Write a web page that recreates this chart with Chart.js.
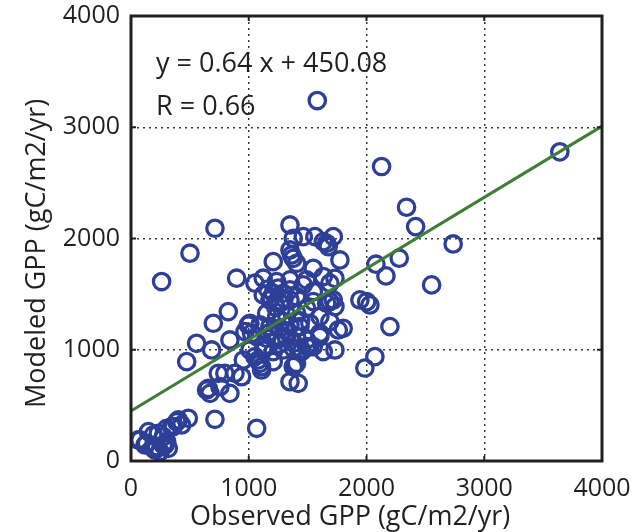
<!DOCTYPE html>
<html>
<head>
<meta charset="utf-8">
<script src="https://cdn.jsdelivr.net/npm/chart.js@4.4.1/dist/chart.umd.min.js"></script>
<style>
  html, body { margin: 0; padding: 0; background: #fff; }
  #wrap { width: 636px; height: 532px; }
</style>
</head>
<body>
<div id="wrap"><canvas id="gppChart"></canvas></div>
<script>
// Observed vs modeled GPP (gC/m2/yr)
const obsX = [
  62, 76, 119, 133, 204, 190, 246, 218, 274, 289, 317, 303, 232, 148, 190, 275, 303, 346, 360, 388, 402, 430, 487, 713, 1067,
  260, 501, 713, 473, 557, 685, 699, 826, 840, 897, 968, 1024, 996, 642, 671, 656, 755, 840, 741, 797, 883, 939, 1053,
  1053, 1081, 1109, 1095, 1109, 1350, 1420, 1378, 1392, 1449, 1491, 1520, 1604, 1604, 1732, 1760, 1802, 1689, 1732, 1661, 1548,
  1986, 2071, 2001, 2029, 1944, 2199, 2553, 2165, 2080, 2278, 2736, 2417, 2340, 2128, 3642, 1582,
  1350, 1378, 1463, 1562, 1661, 1718, 1350, 1378, 1406, 1364, 1208, 1548, 1774, 1732, 1123, 1236, 1350, 1463, 1633, 1675,
  1123, 1208, 1293, 1350, 1406, 1180, 1265, 1350, 1152, 1237, 1322, 1406, 1491, 1010, 1095, 1180, 1265, 1350, 1435, 1519,
  1067, 1152, 1237, 1322, 1406, 1491, 1123, 1208, 1293, 1378, 1449, 1548, 1633, 1604, 1689, 1718, 1548, 1491, 1633, 1689,
  1010, 954, 1208, 1406,
  1160, 1250, 1190, 1300, 1230, 1280, 1170, 1330, 1260, 1140, 1380, 1440
];
const obsY = [
  189, 189, 144, 159, 99, 114, 84, 129, 144, 144, 114, 174, 249, 264, 234, 219, 293, 308, 309, 353, 369, 324, 384, 375, 294,
  1613, 1868, 2092, 893, 1058, 998, 1238, 1343, 1088, 1643, 1163, 1148, 1223, 638, 608, 653, 668, 608, 788, 788, 788, 758, 1598,
  938, 908, 848, 878, 818, 713, 698, 848, 863, 983, 1028, 1028, 1118, 1148, 998, 1178, 1193, 1433, 1388, 1418, 1523,
  836, 938, 1432, 1403, 1448, 1208, 1583, 1664, 1769, 1823, 1951, 2107, 2281, 2647, 2779, 3240,
  2122, 2002, 2017, 2017, 1957, 2017, 1897, 1822, 1777, 1852, 1792, 1732, 1807, 1642, 1643, 1613, 1628, 1583, 1972, 1927,
  1493, 1508, 1508, 1538, 1478, 1448, 1418, 1448, 1328, 1298, 1313, 1328, 1373, 1238, 1223, 1208, 1193, 1223, 1208, 1238,
  1118, 1103, 1088, 1103, 1118, 1088, 998, 983, 998, 1013, 998, 1028, 983, 1298, 1253, 1448, 1433, 1628, 1658, 1598,
  998, 908, 893, 878,
  1545, 1555, 1470, 1460, 1380, 1260, 1150, 1160, 1050, 1040, 1060, 1260
];

// regression line y = 0.64 x + 450.08
const fitX = [0, 4000];
const fitY = [450.08, 3010.08];

const axisTicks = [0, 1000, 2000, 3000, 4000];
const eqText = 'y = 0.64 x + 450.08';
const rText = 'R = 0.66';
const xTitle = 'Observed GPP (gC/m2/yr)';
const yTitle = 'Modeled GPP (gC/m2/yr)';

const inkColor = '#231f20';
const fontFamily = '"Open Sans", "Noto Sans", sans-serif';

document.addEventListener('DOMContentLoaded', function() {
    const points = obsX.map((x, i) => ({ x: x, y: obsY[i] }));
    const fitLine = fitX.map((x, i) => ({ x: x, y: fitY[i] }));

    // frame, inward ticks, axis titles and the equation text
    const framePlugin = {
        id: 'framePlugin',
        afterDraw(chart) {
            const ctx = chart.ctx;
            const a = chart.chartArea;
            const xs = chart.scales.x;
            const ys = chart.scales.y;
            ctx.save();
            ctx.strokeStyle = inkColor;
            ctx.lineWidth = 3;
            ctx.strokeRect(a.left, a.top, a.right - a.left, a.bottom - a.top);

            ctx.lineWidth = 2;
            axisTicks.forEach(v => {
                const px = xs.getPixelForValue(v);
                const py = ys.getPixelForValue(v);
                ctx.beginPath();
                ctx.moveTo(px, a.bottom); ctx.lineTo(px, a.bottom - 5);
                ctx.moveTo(px, a.top); ctx.lineTo(px, a.top + 5);
                ctx.moveTo(a.left, py); ctx.lineTo(a.left + 5, py);
                ctx.moveTo(a.right, py); ctx.lineTo(a.right - 5, py);
                ctx.stroke();
            });

            ctx.fillStyle = inkColor;
            ctx.textAlign = 'left';
            ctx.textBaseline = 'alphabetic';
            ctx.font = '27px ' + fontFamily;
            ctx.fillText(eqText, a.left + 25, 72);
            ctx.fillText(rText, a.left + 25, 115);

            ctx.font = '27px ' + fontFamily;
            ctx.fillText(xTitle, 190, 525);

            ctx.translate(45, 408);
            ctx.rotate(-Math.PI / 2);
            ctx.fillText(yTitle, 0, 0);
            ctx.restore();
        }
    };

    // no extra room for tick label overflow, the layout padding handles it
    const noOverflow = s => {
        s.paddingTop = 0; s.paddingBottom = 0;
        s.paddingLeft = 0; s.paddingRight = 0;
    };

    const ctx = document.getElementById('gppChart').getContext('2d');
    new Chart(ctx, {
        type: 'scatter',
        data: {
            datasets: [{
                label: 'Sites',
                data: points,
                showLine: false,
                pointStyle: 'circle',
                pointRadius: 8.2,
                pointBorderWidth: 3.3,
                borderColor: '#2d3f96',
                backgroundColor: 'rgba(0,0,0,0)',
                order: 2
            }, {
                label: 'Fit',
                data: fitLine,
                showLine: true,
                pointRadius: 0,
                borderColor: '#3f7f35',
                borderWidth: 3,
                order: 1
            }]
        },
        options: {
            responsive: true,
            maintainAspectRatio: false,
            animation: false,
            layout: {
                padding: { left: 0, right: 34, top: 16, bottom: 0 }
            },
            plugins: {
                legend: { display: false },
                tooltip: { enabled: false }
            },
            scales: {
                x: {
                    type: 'linear',
                    min: 0,
                    max: 4000,
                    afterFit: s => { s.height = 71; noOverflow(s); },
                    ticks: {
                        stepSize: 1000,
                        padding: 13,
                        color: inkColor,
                        font: { family: fontFamily, size: 25 },
                        callback: v => String(v)
                    },
                    grid: {
                        drawTicks: false,
                        color: '#3a3a3a',
                        lineWidth: 1.5
                    },
                    border: { display: false, dash: [2, 4] }
                },
                y: {
                    type: 'linear',
                    min: 0,
                    max: 4000,
                    afterFit: s => { s.width = 131; noOverflow(s); },
                    ticks: {
                        stepSize: 1000,
                        padding: 11,
                        color: inkColor,
                        font: { family: fontFamily, size: 25 },
                        callback: v => String(v)
                    },
                    grid: {
                        drawTicks: false,
                        color: '#3a3a3a',
                        lineWidth: 1.5
                    },
                    border: { display: false, dash: [2, 4] }
                }
            }
        },
        plugins: [framePlugin]
    });
});
</script>
</body>
</html>
